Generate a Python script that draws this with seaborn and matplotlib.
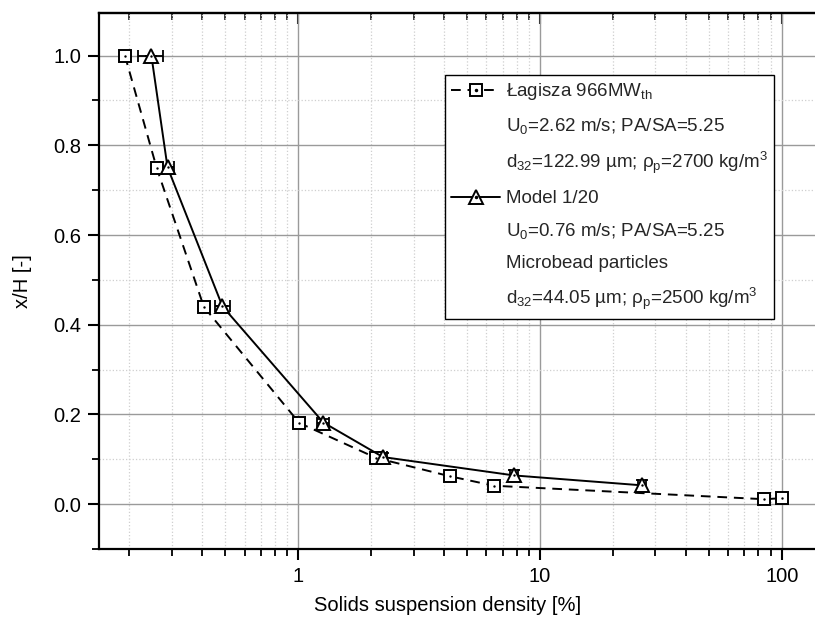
import matplotlib
matplotlib.use("Agg")
import matplotlib.pyplot as plt
import matplotlib.ticker as mticker
from matplotlib.lines import Line2D
import seaborn as sns
import pandas as pd

# ---- data ----
lag_x = [0.192, 0.26, 0.407, 1.01, 2.10, 4.25, 6.46, 84.6, 100.4]
lag_y = [1.0, 0.749, 0.440, 0.181, 0.103, 0.062, 0.041, 0.011, 0.0134]

mod_x = [0.247, 0.288, 0.486, 1.27, 2.24, 7.81, 26.3]
mod_y = [1.0, 0.751, 0.441, 0.182, 0.105, 0.064, 0.042]
mod_xerr = [0.030, 0.019, 0.034, 0.07, 0.09, 0.30, 1.0]
mod_yerr = [0.0, 0.0, 0.0, 0.008, 0.010, 0.012, 0.012]

legend_labels = [
    "Łagisza 966MW$_\\mathregular{th}$",
    "U$_\\mathregular{0}$=2.62 m/s; PA/SA=5.25",
    "d$_\\mathregular{32}$=122.99 µm; ρ$_\\mathregular{p}$=2700 kg/m$^\\mathregular{3}$",
    "Model 1/20",
    "U$_\\mathregular{0}$=0.76 m/s; PA/SA=5.25",
    "Microbead particles",
    "d$_\\mathregular{32}$=44.05 µm; ρ$_\\mathregular{p}$=2500 kg/m$^\\mathregular{3}$",
]
xlabel = "Solids suspension density [%]"
ylabel = "x/H [-]"
y_ticks = [0.0, 0.2, 0.4, 0.6, 0.8, 1.0]

df_lag = pd.DataFrame({"x": lag_x, "y": lag_y})
df_mod = pd.DataFrame({"x": mod_x, "y": mod_y})

sns.set_theme(style="ticks")
plt.rcParams["font.family"] = ["Liberation Sans", "DejaVu Sans"]
plt.rcParams["mathtext.fontset"] = "custom"
plt.rcParams["mathtext.rm"] = "Liberation Sans"
plt.rcParams["mathtext.it"] = "Liberation Sans:italic"
plt.rcParams["mathtext.bf"] = "Liberation Sans:bold"

fig = plt.figure(figsize=(8.15, 6.23), dpi=100)
ax = fig.add_axes([99 / 815, 1 - 549 / 623, (824.5 - 99) / 815, (549 - 13) / 623])

ax.set_xscale("log")
ax.set_xlim(0.15, 150)
ax.set_ylim(-0.1, 1.095)

# grid
ax.set_axisbelow(True)
ax.grid(which="major", color="#9a9a9a", lw=1.0, ls="-")
ax.grid(which="minor", color="#cfcfcf", lw=0.9, ls=":")

# error bars for model
ax.errorbar(mod_x, mod_y, xerr=mod_xerr, yerr=mod_yerr, fmt="none",
            ecolor="black", elinewidth=1.3, capsize=4, capthick=1.3, zorder=3)

# series 1: dashed, squares
sns.lineplot(data=df_lag, x="x", y="y", ax=ax, sort=False, estimator=None,
             color="black", lw=1.4, marker="s", markersize=8.5,
             markerfacecolor="white", markeredgecolor="black",
             markeredgewidth=1.4, zorder=4)
l1 = ax.lines[-1]
l1.set_linestyle((0, (5, 3.5)))
sns.scatterplot(data=df_lag, x="x", y="y", ax=ax, color="black", s=3,
                marker="o", edgecolor="black", linewidth=0, zorder=6)

# series 2: solid, triangles
sns.lineplot(data=df_mod, x="x", y="y", ax=ax, sort=False, estimator=None,
             color="black", lw=1.4, marker="^", markersize=10.5,
             markerfacecolor="white", markeredgecolor="black",
             markeredgewidth=1.4, zorder=5)
sns.scatterplot(data=df_mod, x="x", y="y", ax=ax, color="black", s=3,
                marker="o", edgecolor="black", linewidth=0, zorder=7)

# axes styling
for sp in ax.spines.values():
    sp.set_linewidth(1.6)
    sp.set_color("black")

ax.set_yticks(y_ticks)
ax.yaxis.set_minor_locator(mticker.MultipleLocator(0.1))
ax.yaxis.set_major_formatter(mticker.FormatStrFormatter("%.1f"))
ax.xaxis.set_major_locator(mticker.LogLocator(base=10))
ax.xaxis.set_minor_locator(mticker.LogLocator(base=10, subs=range(2, 10)))
ax.xaxis.set_major_formatter(mticker.FuncFormatter(lambda v, p: f"{v:g}"))
ax.xaxis.set_minor_formatter(mticker.NullFormatter())

ax.tick_params(which="major", direction="out", length=8, width=1.5,
               labelsize=14.5, color="black", labelcolor="black", pad=5)
ax.tick_params(which="minor", direction="out", length=5, width=1.3, color="black")
ax.tick_params(axis="x", which="both", bottom=True, top=False)
ax.tick_params(axis="y", which="both", left=True, right=False)

sec = ax.secondary_xaxis("top")
sec.xaxis.set_major_locator(mticker.LogLocator(base=10))
sec.xaxis.set_minor_locator(mticker.LogLocator(base=10, subs=range(2, 10)))
sec.tick_params(which="major", direction="in", length=8, width=1.5, labeltop=False)
sec.tick_params(which="minor", direction="in", length=5, width=1.3)
sec.spines["top"].set_linewidth(1.6)

ax.set_xlabel(xlabel, fontsize=14.5, color="black")
ax.set_ylabel(ylabel, fontsize=14.5, color="black")
ax.xaxis.set_label_coords(0.48, -0.088)
ax.yaxis.set_label_coords(-0.093, 0.5)

# legend
h_lag = (Line2D([], [], color="black", lw=1.4, ls=(0, (5, 3.5)), marker="s",
                markersize=8.5, markerfacecolor="white", markeredgecolor="black",
                markeredgewidth=1.4),
         Line2D([], [], color="black", ls="none", marker="o", markersize=1.5))
h_mod = (Line2D([], [], color="black", lw=1.4, marker="^", markersize=10.5,
                markerfacecolor="white", markeredgecolor="black",
                markeredgewidth=1.4),
         Line2D([], [], color="black", ls="none", marker="o", markersize=1.5))
blank = Line2D([], [], ls="none", marker="none")
handles = [h_lag, blank, blank, h_mod, blank, blank, blank]
leg = ax.legend(handles, legend_labels, loc="upper left",
                bbox_to_anchor=((445 - 99) / 725.5, 1 - (75 - 13) / 536),
                borderaxespad=0, fontsize=13.5, frameon=True, fancybox=False,
                edgecolor="black", framealpha=1, handlelength=2.6,
                handletextpad=0.3, labelspacing=0.74, borderpad=0.34)
leg.get_frame().set_linewidth(1.0)

fig.savefig("out.png", dpi=100)
